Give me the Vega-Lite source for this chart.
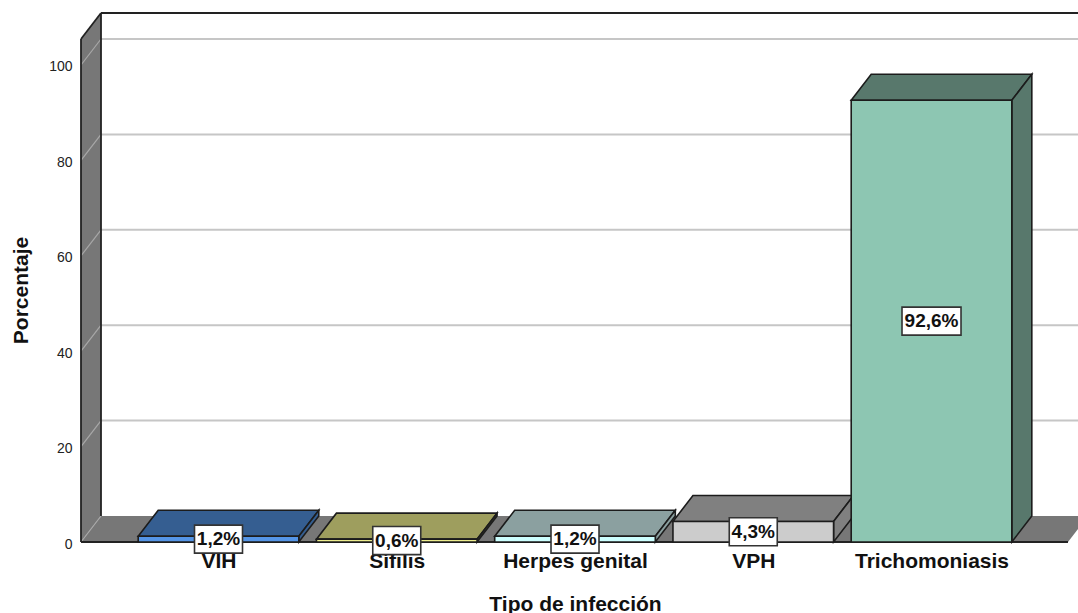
{"$schema":"https://vega.github.io/schema/vega-lite/v6.json","width":997,"height":529,"autosize":{"type":"none"},"padding":{"left":81,"top":13,"right":0,"bottom":71},"background":"white","config":{"view":{"stroke":null}},
"encoding":{
"x":{"field":"x","type":"quantitative","scale":{"domain":[0.2286,5.8218],"nice":false,"zero":false},"axis":{"values":[1,2,3,4,5],"labelExpr":"['VIH','Sífilis','Herpes genital','VPH','Trichomoniasis'][datum.value-1]","labelFont":"Liberation Sans","labelFontSize":21,"labelFontWeight":"bold","labelColor":"#111","labelPadding":8,"ticks":false,"domain":false,"grid":false,"title":"Tipo de infección","titleFont":"Liberation Sans","titleFontSize":21,"titleFontWeight":"bold","titleColor":"#111","titleX":494,"titleY":51,"labelFlush":false,"labelOverlap":false}},
"y":{"field":"y","type":"quantitative","scale":{"domain":[0,110.9],"nice":false,"zero":false},"axis":{"values":[0,20,40,60,80,100],"labelFont":"Liberation Sans","labelFontSize":14,"labelColor":"#222","labelPadding":9,"labelOffset":2,"ticks":false,"domain":false,"grid":false,"title":"Porcentaje","titleFont":"Liberation Sans","titleFontSize":21,"titleFontWeight":"bold","titleColor":"#111","titleX":-50,"titleY":277}}
},
"layer":[
{"data":{"values":[{"x":0.2286,"y":105.45,"y2":0},{"x":0.3408,"y":110.9,"y2":5.45}]},"mark":{"type":"area","orient":"vertical","color":"#777777"},"encoding":{"y2":{"field":"y2"}}},
{"data":{"values":[{"x":0.2286,"y":0,"y2":0},{"x":0.3408,"y":5.45,"y2":0},{"x":5.7656,"y":5.45,"y2":0},{"x":5.8778,"y":5.45,"y2":5.45}]},"mark":{"type":"area","orient":"vertical","color":"#777777","clip":false},"encoding":{"y2":{"field":"y2"}}},
{"data":{"values":[{"v":20},{"v":40},{"v":60},{"v":80},{"v":100}]},"transform":[{"calculate":"0.3408","as":"x"},{"calculate":"5.8218","as":"x2"},{"calculate":"datum.v+5.45","as":"y"},{"calculate":"datum.v+5.45","as":"y2"}],"mark":{"type":"rule","color":"#c6c6c6","strokeWidth":2},"encoding":{"x2":{"field":"x2"},"y2":{"field":"y2"}}},
{"data":{"values":[{"v":0},{"v":20},{"v":40},{"v":60},{"v":80},{"v":100}]},"transform":[{"calculate":"0.2286","as":"x"},{"calculate":"0.3408","as":"x2"},{"calculate":"datum.v","as":"y"},{"calculate":"datum.v+5.45","as":"y2"}],"mark":{"type":"rule","color":"#a8a8a8","strokeWidth":1.2},"encoding":{"x2":{"field":"x2"},"y2":{"field":"y2"}}},
{"data":{"values":[{"x":0.2286,"x2":0.2286,"y":0,"y2":105.45},{"x":0.2286,"x2":0.3408,"y":105.45,"y2":110.9},{"x":0.3408,"x2":0.3408,"y":5.45,"y2":110.9},{"x":0.3408,"x2":5.8218,"y":110.9,"y2":110.9},{"x":0.2286,"x2":5.7656,"y":0,"y2":0}]},"mark":{"type":"rule","color":"#222222","strokeWidth":1.8},"encoding":{"x2":{"field":"x2"},"y2":{"field":"y2"}}},
{"data":{"values":[{"cat":"VIH","value":1.2,"label":"1,2%"},{"cat":"Sífilis","value":0.6,"label":"0,6%"},{"cat":"Herpes genital","value":1.2,"label":"1,2%"},{"cat":"VPH","value":4.3,"label":"4,3%"},{"cat":"Trichomoniasis","value":92.6,"label":"92,6%"}]},
"transform":[{"calculate":"indexof(['VIH','Sífilis','Herpes genital','VPH','Trichomoniasis'],datum.cat)+1","as":"pos"}],
"layer":[
{"transform":[{"calculate":"[0,1,2,3]","as":"k"},{"flatten":["k"]},{"calculate":"datum.pos-0.4505+[0,0.1122,0.901,1.0132][datum.k]","as":"x"},{"calculate":"datum.value+[0,5.45,5.45,5.45][datum.k]","as":"y"},{"calculate":"datum.value+[0,0,0,5.45][datum.k]","as":"y2"}],"mark":{"type":"area","orient":"vertical","stroke":"#1c1c1c","strokeWidth":1.6},"encoding":{"y2":{"field":"y2"},"color":{"field":"cat","type":"nominal","legend":null,"scale":{"domain":["VIH","Sífilis","Herpes genital","VPH","Trichomoniasis"],"range":["#355E91","#9E9E5E","#8BA0A0","#808080","#58786C"]}}}},
{"transform":[{"calculate":"[0,1]","as":"k"},{"flatten":["k"]},{"calculate":"datum.pos+0.4505+0.1122*datum.k","as":"x"},{"calculate":"datum.value+5.45*datum.k","as":"y"},{"calculate":"5.45*datum.k","as":"y2"}],"mark":{"type":"area","orient":"vertical","stroke":"#1c1c1c","strokeWidth":1.6},"encoding":{"y2":{"field":"y2"},"color":{"field":"cat","type":"nominal","legend":null,"scale":{"domain":["VIH","Sífilis","Herpes genital","VPH","Trichomoniasis"],"range":["#355E91","#9E9E5E","#8BA0A0","#808080","#58786C"]}}}},
{"transform":[{"calculate":"datum.pos-0.4505","as":"x"},{"calculate":"datum.pos+0.4505","as":"x2"},{"calculate":"datum.value","as":"y"},{"calculate":"0","as":"y2"}],"mark":{"type":"rect","stroke":"#1c1c1c","strokeWidth":1.6},"encoding":{"x2":{"field":"x2"},"y2":{"field":"y2"},"fill":{"field":"cat","type":"nominal","legend":null,"scale":{"domain":["VIH","Sífilis","Herpes genital","VPH","Trichomoniasis"],"range":["#5595E6","#EDED8E","#CCFFFF","#CCCCCC","#8DC6B2"]}}}},
{"transform":[{"calculate":"(length(datum.label)>4?29.5:24)/178.25","as":"hw"},{"calculate":"datum.pos-datum.hw","as":"x"},{"calculate":"datum.pos+datum.hw","as":"x2"},{"calculate":"datum.value/2+2.94","as":"y"},{"calculate":"datum.value/2-2.94","as":"y2"}],"mark":{"type":"rect","fill":"white","stroke":"#333333","strokeWidth":1.6},"encoding":{"x2":{"field":"x2"},"y2":{"field":"y2"}}},
{"transform":[{"calculate":"datum.pos","as":"x"},{"calculate":"datum.value/2","as":"y"}],"mark":{"type":"text","font":"Liberation Sans","fontSize":19,"fontWeight":"bold","color":"#111","baseline":"middle","align":"center"},"encoding":{"text":{"field":"label"}}}
],"resolve":{"scale":{"color":"independent"}}}
]}
